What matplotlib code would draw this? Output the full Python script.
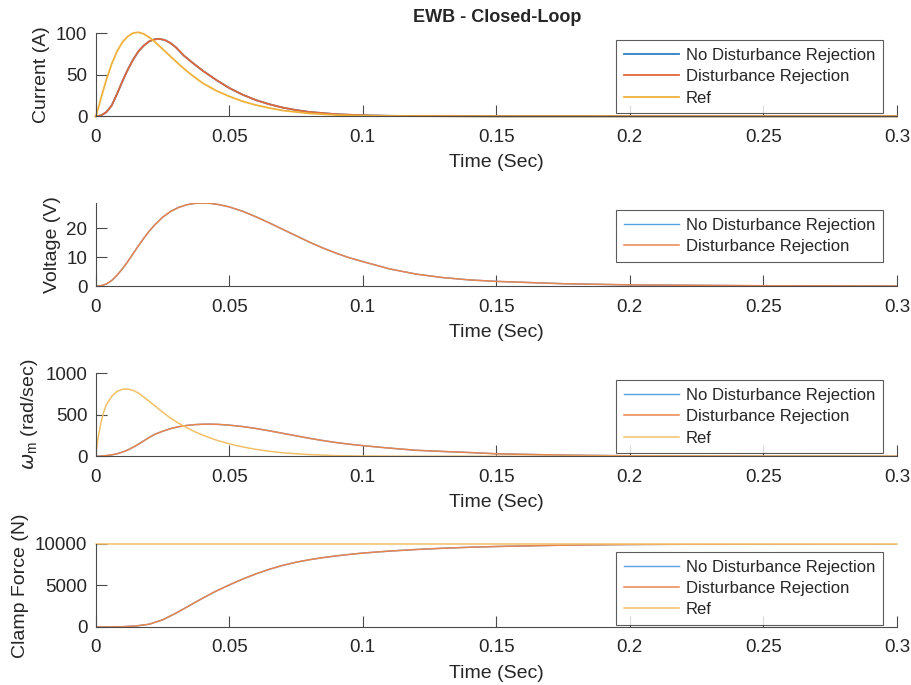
# EWB closed-loop response: current, voltage, motor speed and clamp force

import matplotlib
matplotlib.use('Agg')
import matplotlib.pyplot as plt

plt.rcParams['font.family'] = ['Liberation Sans', 'DejaVu Sans']
plt.rcParams['mathtext.fontset'] = 'custom'
plt.rcParams['mathtext.rm'] = 'Liberation Sans'

# ---- data (time in s) ----
# current (A), disturbance rejection / no disturbance rejection overlap
t_cur = [0, 0.002, 0.004, 0.006, 0.008, 0.010, 0.012, 0.014, 0.016, 0.018,
         0.020, 0.022, 0.024, 0.026, 0.028, 0.030, 0.033, 0.036, 0.040, 0.045,
         0.050, 0.055, 0.060, 0.065, 0.070, 0.075, 0.080, 0.090, 0.100, 0.110,
         0.120, 0.150, 0.200, 0.300]
cur_nodr = [0, 1, 5, 13, 27, 42, 56, 68, 78, 85,
            90, 92.5, 93, 91.5, 88, 83, 73, 65, 55, 44,
            34, 26, 19.5, 14.5, 10.5, 7.5, 5.2, 2.5, 1.2, 0.6,
            0.3, 0.05, 0, 0]
cur_dr = cur_nodr
t_cur_ref = [0, 0.001, 0.002, 0.004, 0.006, 0.008, 0.010, 0.012, 0.014, 0.016,
             0.018, 0.020, 0.022, 0.025, 0.028, 0.031, 0.035, 0.040, 0.045,
             0.050, 0.055, 0.060, 0.065, 0.070, 0.080, 0.090, 0.100, 0.120,
             0.150, 0.300]
cur_ref = [0, 10, 22, 44, 63, 78, 89, 96, 100, 101,
           99, 95, 90, 81, 72, 63, 52, 40, 31,
           24, 18, 13.5, 10, 7, 3.5, 1.6, 0.7, 0.15,
           0, 0]

# voltage (V)
t_volt = [0, 0.002, 0.004, 0.006, 0.008, 0.010, 0.012, 0.014, 0.016, 0.018,
          0.020, 0.022, 0.025, 0.028, 0.031, 0.034, 0.037, 0.040, 0.043, 0.046,
          0.050, 0.055, 0.060, 0.065, 0.070, 0.075, 0.080, 0.085, 0.090, 0.095,
          0.100, 0.110, 0.120, 0.130, 0.140, 0.150, 0.175, 0.200, 0.250, 0.300]
volt_nodr = [0, 0.2, 0.8, 2.0, 3.8, 6.0, 8.5, 11.2, 13.9, 16.5,
             18.9, 21.0, 23.7, 25.7, 27.1, 28.0, 28.5, 28.6, 28.5, 28.1,
             27.3, 25.8, 23.9, 21.8, 19.6, 17.4, 15.2, 13.2, 11.4, 9.8,
             8.5, 6.0, 4.2, 3.0, 2.2, 1.7, 0.9, 0.5, 0.2, 0.1]
volt_dr = volt_nodr

# motor speed (rad/sec)
t_w = [0, 0.002, 0.004, 0.006, 0.008, 0.010, 0.012, 0.014, 0.016, 0.018,
       0.020, 0.022, 0.025, 0.028, 0.031, 0.034, 0.037, 0.040, 0.043, 0.046,
       0.050, 0.055, 0.060, 0.065, 0.070, 0.075, 0.080, 0.085, 0.090, 0.095,
       0.100, 0.110, 0.120, 0.130, 0.140, 0.150, 0.175, 0.200, 0.250, 0.300]
w_nodr = [0, 2, 8, 17, 30, 50, 76, 108, 145, 185,
          225, 262, 300, 332, 355, 370, 380, 385, 386, 383,
          374, 357, 334, 306, 276, 246, 216, 189, 165, 145,
          128, 98, 72, 58, 45, 30, 14, 6, 1, 0]
w_dr = w_nodr
t_w_ref = [0, 0.0005, 0.001, 0.002, 0.003, 0.004, 0.006, 0.008, 0.010, 0.012,
           0.014, 0.016, 0.018, 0.020, 0.022, 0.025, 0.028, 0.031, 0.034, 0.037,
           0.040, 0.045, 0.050, 0.055, 0.060, 0.065, 0.070, 0.080, 0.090, 0.100,
           0.120, 0.150, 0.300]
w_ref = [0, 130, 240, 410, 530, 620, 720, 780, 805, 808,
         792, 760, 712, 662, 610, 532, 460, 398, 345, 297,
         255, 196, 150, 113, 83, 60, 42, 20, 8, 3,
         0.5, 0, 0]

# clamp force (N)
t_f = [0, 0.005, 0.010, 0.015, 0.020, 0.025, 0.030, 0.035, 0.040, 0.045,
       0.050, 0.055, 0.060, 0.065, 0.070, 0.075, 0.080, 0.085, 0.090, 0.095,
       0.100, 0.110, 0.120, 0.130, 0.140, 0.150, 0.175, 0.200, 0.250, 0.300]
f_nodr = [0, 5, 30, 120, 330, 850, 1650, 2550, 3450, 4300,
          5050, 5750, 6380, 6930, 7400, 7780, 8080, 8330, 8540, 8720,
          8880, 9120, 9310, 9460, 9580, 9670, 9830, 9910, 9980, 10000]
f_dr = f_nodr
t_f_ref = [0, 0.300]
f_ref = [10000, 10000]

xticks = [0, 0.05, 0.1, 0.15, 0.2, 0.25, 0.3]
xticklabels = ['0', '0.05', '0.1', '0.15', '0.2', '0.25', '0.3']
labels3 = ['No Disturbance Rejection', 'Disturbance Rejection', 'Ref']

# ---- styling ----
c_blue, c_orange, c_yellow = '#2E7DC9', '#E0683A', '#EFB13A'
c_blue2, c_orange2, c_yellow2 = '#55A2E2', '#E9844F', '#F2C069'
spine_col = '#4a4a4a'
txt_col = '#262626'

fig = plt.figure(figsize=(9.12, 6.85), dpi=100)
left, width, h = 0.1049, 0.8786, 0.1215
bottoms = [0.8302, 0.5820, 0.3339, 0.0847]
axes = [fig.add_axes([left, b, width, h]) for b in bottoms]

def style(ax, ylim, yticks, ylabel):
    ax.set_xlim(0, 0.3)
    ax.set_ylim(*ylim)
    ax.set_xticks(xticks)
    ax.set_xticklabels(xticklabels)
    ax.set_yticks(yticks)
    for s in ['top', 'right']:
        ax.spines[s].set_visible(False)
    for s in ['left', 'bottom']:
        ax.spines[s].set_color(spine_col)
        ax.spines[s].set_linewidth(0.8)
    ax.tick_params(direction='in', length=8, width=0.8, colors=spine_col,
                   labelcolor=txt_col, labelsize=13.5)
    ax.tick_params(axis='x', pad=9)
    ax.tick_params(axis='y', pad=6)
    ax.set_xlabel('Time (Sec)', fontsize=14, color=txt_col, labelpad=6)
    ax.set_ylabel(ylabel, fontsize=14, color=txt_col, labelpad=4)

def legend(ax, top):
    leg = ax.legend(loc='upper right', bbox_to_anchor=(0.9825, top),
                    borderaxespad=0, fontsize=12, frameon=True,
                    fancybox=False, handlelength=3.3, handletextpad=0.45,
                    labelspacing=0.38, borderpad=0.45)
    leg.get_frame().set_edgecolor('#333333')
    leg.get_frame().set_linewidth(0.8)
    for txt in leg.get_texts():
        txt.set_color(txt_col)

# current
ax = axes[0]
ax.plot(t_cur, cur_nodr, color=c_blue, lw=1.3, label=labels3[0], clip_on=False)
ax.plot(t_cur, cur_dr, color=c_orange, lw=1.3, label=labels3[1], clip_on=False)
ax.plot(t_cur_ref, cur_ref, color=c_yellow, lw=1.3, label=labels3[2], clip_on=False)
style(ax, (0, 100), [0, 50, 100], 'Current (A)')
legend(ax, 0.911)

# voltage
ax = axes[1]
ax.plot(t_volt, volt_nodr, color=c_blue2, lw=1.0, label=labels3[0])
ax.plot(t_volt, volt_dr, color=c_orange2, lw=1.1, label=labels3[1])
style(ax, (0, 28.6), [0, 10, 20], 'Voltage (V)')
legend(ax, 0.913)

# speed
ax = axes[2]
ax.plot(t_w, w_nodr, color=c_blue2, lw=1.0, label=labels3[0])
ax.plot(t_w, w_dr, color=c_orange2, lw=1.1, label=labels3[1])
ax.plot(t_w_ref, w_ref, color=c_yellow2, lw=1.1, label=labels3[2])
style(ax, (0, 1000), [0, 500, 1000], r'$\omega_\mathrm{m}$ (rad/sec)')
legend(ax, 0.911)

# clamp force
ax = axes[3]
ax.plot(t_f, f_nodr, color=c_blue2, lw=1.0, label=labels3[0])
ax.plot(t_f, f_dr, color=c_orange2, lw=1.1, label=labels3[1])
ax.plot(t_f_ref, f_ref, color=c_yellow2, lw=1.1, label=labels3[2], clip_on=False)
style(ax, (0, 10000), [0, 5000, 10000], 'Clamp Force (N)')
legend(ax, 0.90)

fig.text(0.545, 1 - 18 / 685, 'EWB - Closed-Loop', ha='center', va='center',
         fontsize=13, fontweight='bold', color=txt_col)

fig.savefig('out.png', dpi=100)
